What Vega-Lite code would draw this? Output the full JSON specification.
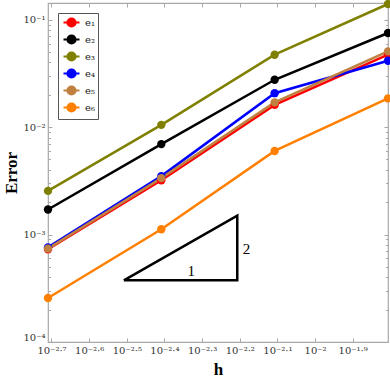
{
  "$schema": "https://vega.github.io/schema/vega-lite/v6.json",
  "width": 340,
  "height": 339,
  "autosize": {"type": "none"},
  "padding": {"left": 48, "top": 3, "right": 2, "bottom": 35},
  "background": "white",
  "config": {
    "view": {"stroke": "#a8a8a8", "strokeWidth": 1.2},
    "font": "DejaVu Serif",
    "axis": {"grid": false, "domain": false, "tickColor": "#a8a8a8", "labelColor": "#333", "labelFont": "DejaVu Serif", "labelFontSize": 10}
  },
  "datasets": {
    "err": [
      {"h": 0.001953125, "err": 0.00073, "series": "e₁"},
      {"h": 0.00390625, "err": 0.0032, "series": "e₁"},
      {"h": 0.0078125, "err": 0.0161, "series": "e₁"},
      {"h": 0.015625, "err": 0.0472, "series": "e₁"},
      {"h": 0.001953125, "err": 0.00171, "series": "e₂"},
      {"h": 0.00390625, "err": 0.00695, "series": "e₂"},
      {"h": 0.0078125, "err": 0.0276, "series": "e₂"},
      {"h": 0.015625, "err": 0.0752, "series": "e₂"},
      {"h": 0.001953125, "err": 0.00255, "series": "e₃"},
      {"h": 0.00390625, "err": 0.0105, "series": "e₃"},
      {"h": 0.0078125, "err": 0.0472, "series": "e₃"},
      {"h": 0.015625, "err": 0.14, "series": "e₃"},
      {"h": 0.001953125, "err": 0.00076, "series": "e₄"},
      {"h": 0.00390625, "err": 0.0035, "series": "e₄"},
      {"h": 0.0078125, "err": 0.0207, "series": "e₄"},
      {"h": 0.015625, "err": 0.0415, "series": "e₄"},
      {"h": 0.001953125, "err": 0.00074, "series": "e₅"},
      {"h": 0.00390625, "err": 0.00335, "series": "e₅"},
      {"h": 0.0078125, "err": 0.017, "series": "e₅"},
      {"h": 0.015625, "err": 0.0507, "series": "e₅"},
      {"h": 0.001953125, "err": 0.000257, "series": "e₆"},
      {"h": 0.00390625, "err": 0.00112, "series": "e₆"},
      {"h": 0.0078125, "err": 0.006, "series": "e₆"},
      {"h": 0.015625, "err": 0.0185, "series": "e₆"}
    ],
    "tri": [
      {"tx": 0.003106, "ty": 0.000375, "k": 1},
      {"tx": 0.006215, "ty": 0.001503, "k": 2},
      {"tx": 0.006215, "ty": 0.000375, "k": 3},
      {"tx": 0.003106, "ty": 0.000375, "k": 4}
    ],
    "lab": [
      {"tx": 0.00469, "ty": 0.000455, "t": "1"},
      {"tx": 0.00658, "ty": 0.000735, "t": "2"}
    ]
  },
  "layer": [
    {
      "data": {"name": "err"},
      "mark": {"type": "line", "strokeWidth": 2.5, "clip": false},
      "encoding": {
        "x": {"field": "h", "type": "quantitative",
          "scale": {"type": "log", "domain": [0.001953125, 0.015625], "nice": false},
          "axis": {"orient": "bottom", "values": [0.0019953, 0.0025119, 0.0031623, 0.0039811, 0.0050119, 0.0063096, 0.0079433, 0.01, 0.0125893],
            "tickSize": -4, "labelPadding": 7,
            "labelExpr": "'10' + replace(replace(replace(replace(replace(replace(replace(replace(replace(replace(replace(replace(format(log(datum.value)/LN10, '.1~f'), regexp('[-−]','g'),'⁻'), regexp('[.]','g'),'·'), regexp('0','g'),'⁰'), regexp('1','g'),'¹'), regexp('2','g'),'²'), regexp('3','g'),'³'), regexp('4','g'),'⁴'), regexp('5','g'),'⁵'), regexp('6','g'),'⁶'), regexp('7','g'),'⁷'), regexp('8','g'),'⁸'), regexp('9','g'),'⁹')",
            "title": "h", "titleFont": "Liberation Serif", "titleFontSize": 17, "titleFontWeight": "bold", "titleColor": "#000", "titlePadding": 6}},
        "y": {"field": "err", "type": "quantitative",
          "scale": {"type": "log", "domain": [0.0001, 0.143], "nice": false},
          "axis": {"orient": "left", "values": [0.0001, 0.001, 0.01, 0.1], "tickSize": -4, "labelPadding": 7, "labelFlush": true,
            "labelExpr": "'10' + replace(replace(replace(replace(replace(replace(replace(replace(replace(replace(replace(replace(format(log(datum.value)/LN10, '.1~f'), regexp('[-−]','g'),'⁻'), regexp('[.]','g'),'·'), regexp('0','g'),'⁰'), regexp('1','g'),'¹'), regexp('2','g'),'²'), regexp('3','g'),'³'), regexp('4','g'),'⁴'), regexp('5','g'),'⁵'), regexp('6','g'),'⁶'), regexp('7','g'),'⁷'), regexp('8','g'),'⁸'), regexp('9','g'),'⁹')",
            "title": "Error", "titleFont": "Liberation Serif", "titleFontSize": 17, "titleFontWeight": "bold", "titleColor": "#000", "titlePadding": 2}},
        "color": {"field": "series", "type": "nominal",
          "scale": {"domain": ["e₁", "e₂", "e₃", "e₄", "e₅", "e₆"], "range": ["#ff0000", "#000000", "#808000", "#0000ff", "#bf8040", "#ff8000"]},
          "legend": {"title": null, "orient": "none", "legendX": 10, "legendY": 10, "strokeColor": "#555", "padding": 3,
            "symbolType": "M-1.6,0L1.6,0M0.8,0A0.8,0.8,0,1,1,-0.8,0A0.8,0.8,0,1,1,0.8,0Z",
            "symbolSize": 100, "symbolStrokeWidth": 2.2, "symbolOffset": 4, "labelOffset": 7, "rowPadding": 0,
            "labelFont": "DejaVu Serif", "labelFontSize": 10, "labelColor": "#222",
            "encode": {"symbols": {"update": {"fill": {"scale": "color", "field": "value"}, "stroke": {"scale": "color", "field": "value"}, "opacity": {"value": 1}}}}}}
      }
    },
    {
      "data": {"name": "err"},
      "mark": {"type": "point", "filled": true, "size": 70, "opacity": 1, "clip": false},
      "encoding": {
        "x": {"field": "h", "type": "quantitative", "axis": {"orient": "top", "values": [0.0019953, 0.0025119, 0.0031623, 0.0039811, 0.0050119, 0.0063096, 0.0079433, 0.01, 0.0125893], "tickSize": -4, "labels": false, "title": null}},
        "y": {"field": "err", "type": "quantitative", "axis": {"orient": "right", "values": [0.0001, 0.001, 0.01, 0.1], "tickSize": -4, "labels": false, "title": null}},
        "color": {"field": "series", "type": "nominal", "legend": null}
      }
    },
    {
      "data": {"name": "tri"},
      "mark": {"type": "line", "color": "#000", "strokeWidth": 2.5, "strokeJoin": "miter", "clip": false},
      "encoding": {
        "x": {"field": "tx", "type": "quantitative", "axis": null},
        "y": {"field": "ty", "type": "quantitative", "axis": {"orient": "left", "values": [0.0002, 0.0003, 0.0004, 0.0005, 0.0006, 0.0007, 0.0008, 0.0009, 0.002, 0.003, 0.004, 0.005, 0.006, 0.007, 0.008, 0.009, 0.02, 0.03, 0.04, 0.05, 0.06, 0.07, 0.08, 0.09], "tickSize": -2.5, "labels": false, "title": null}},
        "order": {"field": "k", "type": "quantitative"}
      }
    },
    {
      "data": {"name": "lab"},
      "mark": {"type": "text", "font": "Liberation Serif", "fontSize": 15, "color": "#000", "align": "center", "baseline": "middle"},
      "encoding": {
        "x": {"field": "tx", "type": "quantitative", "axis": null},
        "y": {"field": "ty", "type": "quantitative", "axis": {"orient": "right", "values": [0.0002, 0.0003, 0.0004, 0.0005, 0.0006, 0.0007, 0.0008, 0.0009, 0.002, 0.003, 0.004, 0.005, 0.006, 0.007, 0.008, 0.009, 0.02, 0.03, 0.04, 0.05, 0.06, 0.07, 0.08, 0.09], "tickSize": -2.5, "labels": false, "title": null}},
        "text": {"field": "t"}
      }
    }
  ],
  "resolve": {"axis": {"x": "independent", "y": "independent"}}
}
